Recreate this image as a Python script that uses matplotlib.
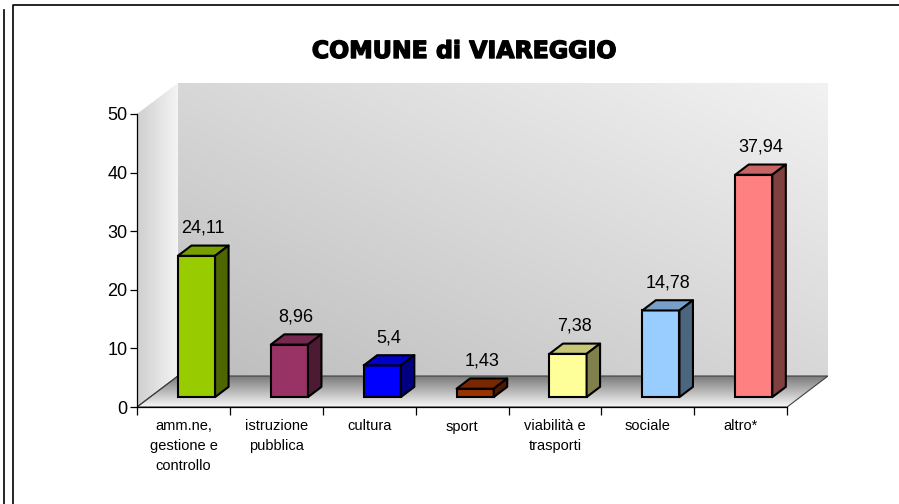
import numpy as np
import matplotlib.pyplot as plt
import matplotlib.patheffects as pe
from matplotlib.patches import Polygon
from matplotlib.lines import Line2D
from matplotlib.colors import to_rgb

categorie = ['amm.ne,\ngestione e\ncontrollo', 'istruzione\npubblica', 'cultura',
             'sport', 'viabilità e\ntrasporti', 'sociale', 'altro*']
valori = [24.11, 8.96, 5.4, 1.43, 7.38, 14.78, 37.94]
etichette = ['24,11', '8,96', '5,4', '1,43', '7,38', '14,78', '37,94']
colori = ['#99CC00', '#993366', '#0000FF', '#993300', '#FFFF99', '#99CCFF', '#FF8080']
titolo = 'COMUNE di VIAREGGIO'

plt.rcParams['font.family'] = ['Liberation Sans', 'DejaVu Sans']

W, H = 899, 504
fig = plt.figure(figsize=(W / 100, H / 100), dpi=100)

# profondità della "scatola" 3D in unità dati
DX, DY = 0.44, 5.29
ymax = 50
x_l, x_r = -0.5, len(valori) - 0.5

# assi: da pixel 137..828 in x e 83..407 in y
ax = fig.add_axes([137 / W, 1 - 407 / H, (828 - 137) / W, (407 - 83) / H])
ax.set_xlim(x_l, x_r + DX)
ax.set_ylim(0, ymax + DY)
ax.patch.set_visible(False)


def sfumatura(poly, c1, c2, direzione):
    """Riempie un poligono con un gradiente lineare."""
    n = 256
    t = np.linspace(0, 1, n)
    if direzione == 'diag':
        X, Y = np.meshgrid(t, t)
        g = np.clip((X + (1 - Y)) / 2, 0, 1)
    elif direzione == 'h':
        g = np.tile(t, (n, 1))
    else:
        g = np.tile(t[:, None], (1, n))
    a, b = np.array(to_rgb(c1)), np.array(to_rgb(c2))
    img = a + (b - a) * g[..., None]
    xs = [p[0] for p in poly]
    ys = [p[1] for p in poly]
    im = ax.imshow(img, extent=[min(xs), max(xs), min(ys), max(ys)],
                   origin='upper', aspect='auto', zorder=0, interpolation='bilinear')
    pat = Polygon(poly, closed=True, facecolor='none', edgecolor='none')
    ax.add_patch(pat)
    im.set_clip_path(pat)


# parete di fondo
fondo = [(x_l + DX, DY), (x_r + DX, DY), (x_r + DX, ymax + DY), (x_l + DX, ymax + DY)]
sfumatura(fondo, '#bdbdbd', '#f2f2f2', 'diag')
# parete laterale
lato = [(x_l, 0), (x_l + DX, DY), (x_l + DX, ymax + DY), (x_l, ymax)]
sfumatura(lato, '#cfcfcf', '#f4f4f4', 'h')
# pavimento
pav = [(x_l, 0), (x_r, 0), (x_r + DX, DY), (x_l + DX, DY)]
sfumatura(pav, '#7a7a7a', '#f8f8f8', 'v')
ax.add_patch(Polygon(pav, closed=True, fill=False, edgecolor='#404040', lw=0.8, zorder=1))
ax.plot([x_l, x_l + DX], [0, DY], color='#404040', lw=0.8, zorder=1)

# barre 3D
f0, fd = 0.32, 0.33
ox, oy = f0 * DX, f0 * DY
bx, by = fd * DX, fd * DY
larg = 0.4
x = np.arange(len(valori))
barre = ax.bar(x + ox, valori, width=larg, bottom=oy, color=colori,
               edgecolor='black', linewidth=1.5, zorder=3)
for xi, v, c, lab in zip(x, valori, colori, etichette):
    rgb = np.array(to_rgb(c))
    x0, x1 = xi + ox - larg / 2, xi + ox + larg / 2
    y0, y1 = oy, oy + v
    top = [(x0, y1), (x0 + bx, y1 + by), (x1 + bx, y1 + by), (x1, y1)]
    side = [(x1, y0), (x1 + bx, y0 + by), (x1 + bx, y1 + by), (x1, y1)]
    ax.add_patch(Polygon(top, closed=True, facecolor=rgb * 0.78, edgecolor='black',
                         lw=1.5, zorder=3, joinstyle='round'))
    ax.add_patch(Polygon(side, closed=True, facecolor=rgb * 0.5, edgecolor='black',
                         lw=1.5, zorder=3, joinstyle='round'))
    ax.text(xi + ox + bx / 2, y1 + by + 3.0, lab, ha='center', va='center',
            fontsize=13, zorder=4)

# assi
for s in ['top', 'right']:
    ax.spines[s].set_visible(False)
ax.spines['left'].set_bounds(0, ymax)
ax.spines['bottom'].set_bounds(x_l, x_r)
ax.spines['left'].set_linewidth(0.9)
ax.spines['bottom'].set_linewidth(0.9)
ax.set_yticks(np.arange(0, 51, 10))
ax.tick_params(axis='y', labelsize=13, length=5, width=0.9, pad=2)
ax.set_xticks(np.arange(x_l, x_r + 0.01, 1))
ax.set_xticklabels([])
ax.tick_params(axis='x', which='major', length=6, width=0.9)
ax.set_xticks(x, minor=True)
ax.set_xticklabels(categorie, minor=True, fontsize=10.5, linespacing=1.5, va='top')
ax.tick_params(axis='x', which='minor', length=0, pad=9)

fig.text(464 / W, 1 - 51 / H, titolo, ha='center', va='center',
         fontsize=17, fontweight='bold', family='DejaVu Sans',
         path_effects=[pe.withStroke(linewidth=1.0, foreground='black')])

# cornici
fig.add_artist(Line2D([13 / W, 13 / W, 1], [0, 1 - 5 / H, 1 - 5 / H],
                      color='black', lw=1.2))
fig.add_artist(Line2D([4 / W, 4 / W], [0, 1 - 10 / H], color='black', lw=1.2))

fig.savefig('out.png', dpi=100)
